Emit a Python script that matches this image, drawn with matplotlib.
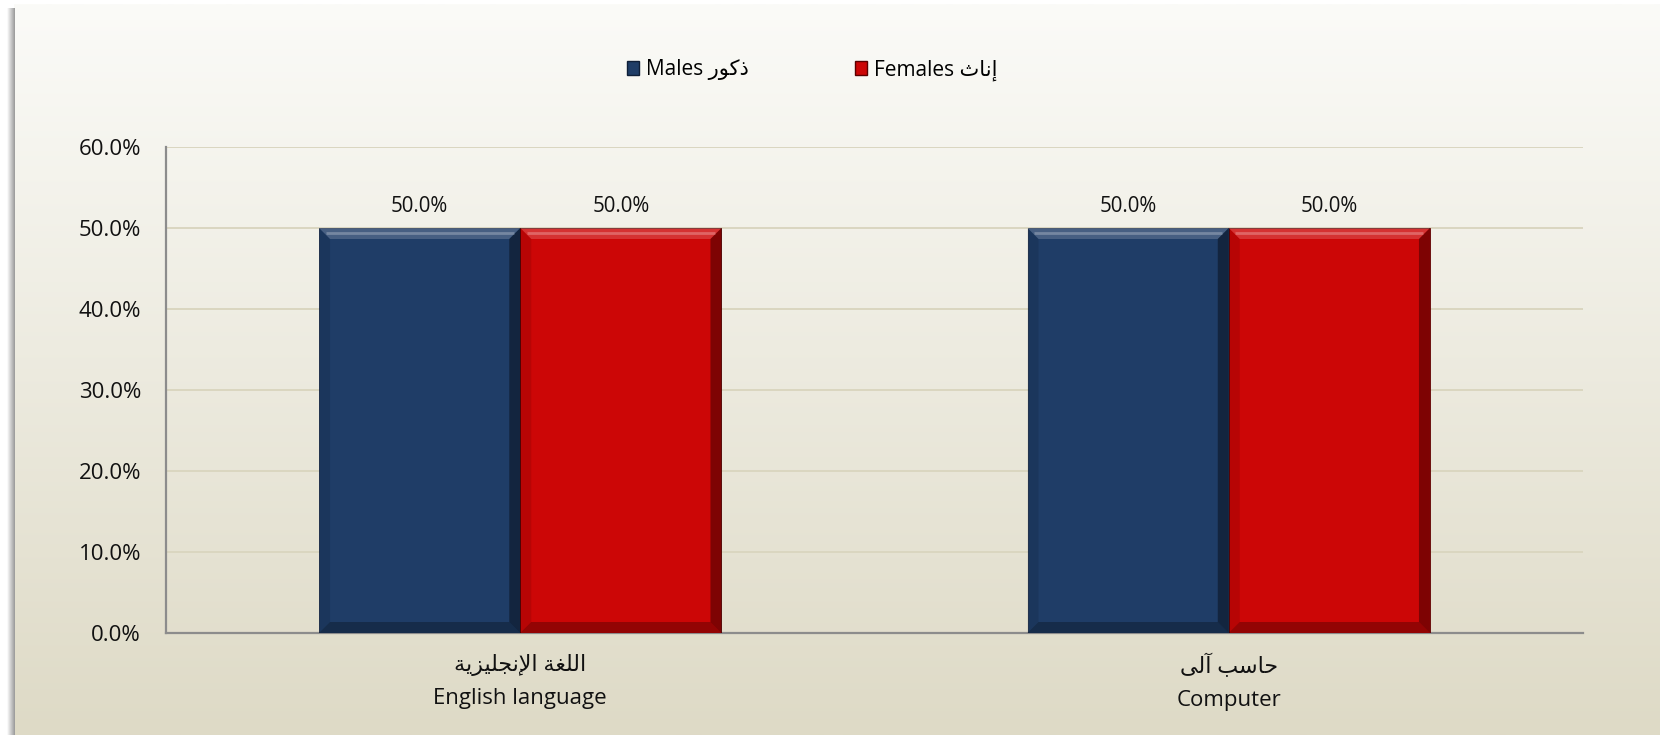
import numpy as np
import matplotlib
matplotlib.use("Agg")
import matplotlib.pyplot as plt
from matplotlib.patches import Patch, Polygon

plt.rcParams['font.family'] = ['Open Sans', 'DejaVu Sans']

# ---- data ----
categories_ar = ["\uFE94\uFEF3\uFEB0\uFEF4\uFEE0\uFEA0\uFEE7\uFEF9\uFE8D \uFE94\uFED0\uFEE0\uFEDF\uFE8D",
                 "\uFEF0\uFEDF\uFE81 \uFE90\uFEB3\uFE8E\uFEA3"]
categories_en = ["English language", "Computer"]
males = [50.0, 50.0]
females = [50.0, 50.0]
series_labels = ["Males \uFEAD\uFEEE\uFEDB\uFEAB", "Females \uFE99\uFE8E\uFEE7\uFE87"]
yticks = [0, 10, 20, 30, 40, 50, 60]

BLUE = "#1F3D67"
RED = "#CC0606"

W, H = 1660, 735
fig = plt.figure(figsize=(W / 100, H / 100), dpi=100)
fig.patch.set_facecolor("white")

# background gradient panel with left shadow
bg = fig.add_axes([0, 0, 1, 1])
bg.set_axis_off()
t = np.linspace(0, 1, 256)[:, None, None]
top = np.array([251, 251, 248]) / 255
bot = np.array([222, 218, 198]) / 255
grad = top + (bot - top) * t
bg.imshow(grad, extent=(14, W, H, 4), aspect='auto', interpolation='bilinear')
s = np.linspace(0, 1, 32)[None, :, None]
sh = (1 - s) * np.array([1, 1, 1]) + s * np.array([0.6, 0.6, 0.6])
bg.imshow(sh, extent=(7, 14, H, 8), aspect='auto', interpolation='bilinear')
bg.set_xlim(0, W)
bg.set_ylim(H, 0)

# main axes
ax = fig.add_axes([166 / W, 1 - 633 / H, (1583 - 166) / W, (633 - 147) / H])
ax.set_facecolor("none")
ax.set_xlim(-0.5, 1.5)
ax.set_ylim(0, 60)

x = np.arange(len(categories_en))
width = 0.284
b1 = ax.bar(x - width / 2, males, width, color=BLUE, edgecolor="#16294a", linewidth=0.6, zorder=3)
b2 = ax.bar(x + width / 2, females, width, color=RED, edgecolor="#5a0000", linewidth=0.6, zorder=3)

# bevel shading derived from each bar's geometry
inv = ax.transData.inverted()
def bevel(bar, b=11):
    x0, y0 = bar.get_x(), bar.get_y()
    x1, y1 = x0 + bar.get_width(), y0 + bar.get_height()
    (px0, py0), (px1, py1) = ax.transData.transform([(x0, y0), (x1, y1)])
    def d(pts):
        return inv.transform(pts)
    polys = [
        ([(px0, py1), (px1, py1), (px1 - b, py1 - b), (px0 + b, py1 - b)], "white", 0.18),
        ([(px1, py1), (px1, py0), (px1 - b, py0 + b), (px1 - b, py1 - b)], "black", 0.38),
        ([(px0, py0), (px1, py0), (px1 - b, py0 + b), (px0 + b, py0 + b)], "black", 0.28),
        ([(px0, py1), (px0, py0), (px0 + b, py0 + b), (px0 + b, py1 - b)], "black", 0.10),
    ]
    for pts, c, a in polys:
        ax.add_patch(Polygon(d(pts), closed=True, facecolor=c, alpha=a, edgecolor="none", zorder=4))
    hl = d([(px0 + b * 0.6, py1 - b * 0.45), (px1 - b * 0.6, py1 - b * 0.45)])
    ax.plot(hl[:, 0], hl[:, 1], color="white", alpha=0.25, lw=2, zorder=5, solid_capstyle="butt")

for bar in list(b1) + list(b2):
    bevel(bar)

ax.bar_label(b1, labels=[f"{v:.1f}%" for v in males], padding=8, fontsize=14.8, color="#111111")
ax.bar_label(b2, labels=[f"{v:.1f}%" for v in females], padding=8, fontsize=14.8, color="#111111")

ax.set_yticks(yticks)
ax.set_yticklabels([f"{v:.1f}%" for v in yticks])
ax.tick_params(axis='y', length=0, pad=18, labelsize=16, labelcolor="#111111")
ax.yaxis.grid(True, color="#DAD6C0", linewidth=1.4)
ax.set_axisbelow(True)

ax.set_xticks(x)
ax.set_xticklabels([f"{a}\n{e}" for a, e in zip(categories_ar, categories_en)],
                   fontsize=16, linespacing=1.75, color="#111111")
ax.tick_params(axis='x', length=0, pad=15)

for sp in ["top", "right"]:
    ax.spines[sp].set_visible(False)
for sp in ["left", "bottom"]:
    ax.spines[sp].set_color("#8C8C8C")
    ax.spines[sp].set_linewidth(1.6)

handles = [Patch(facecolor=BLUE, edgecolor="#0f1f38"), Patch(facecolor=RED, edgecolor="#5a0000")]
fig.legend(handles, series_labels, loc="center", bbox_to_anchor=(812 / W, 1 - 70 / H),
           ncol=2, frameon=False, handlelength=0.6, handleheight=0.6,
           handletextpad=0.3, columnspacing=5.1, fontsize=15)

fig.savefig("out.png", dpi=100)
